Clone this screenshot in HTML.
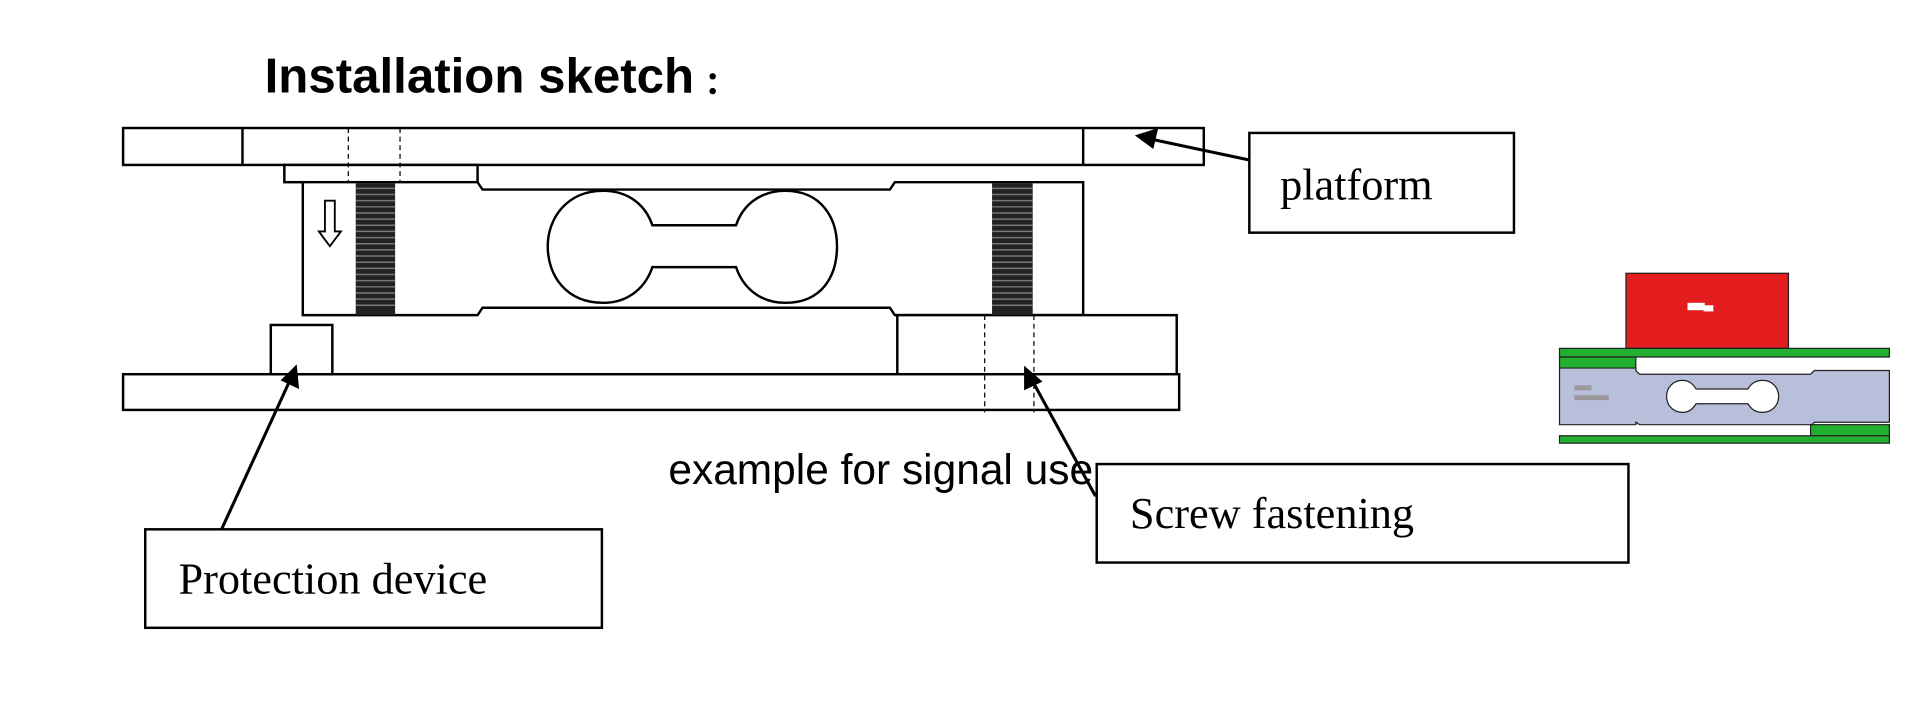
<!DOCTYPE html>
<html><head><meta charset="utf-8"><style>
html,body{margin:0;padding:0;background:#fff;}
svg{display:block;}
</style></head><body>
<svg width="1930" height="712" viewBox="0 0 1568 578.4" preserveAspectRatio="none" xmlns="http://www.w3.org/2000/svg">
<rect width="1568" height="580" fill="#fff"/>
<text x="215" y="75" font-family="Liberation Sans, sans-serif" font-weight="bold" font-size="40">Installation sketch</text>
<circle cx="579" cy="62" r="2.6" fill="#000"/>
<circle cx="579" cy="74" r="2.6" fill="#000"/>
<text x="543" y="393" font-family="Liberation Sans, sans-serif" font-size="34.5">example for signal use</text>
<g fill="none" stroke="#000" stroke-width="2">
<rect x="100" y="104" width="878" height="30" fill="#fff"/>
<line x1="197" y1="104" x2="197" y2="134"/>
<line x1="880" y1="104" x2="880" y2="134"/>
<rect x="231" y="134" width="157" height="14" fill="#fff"/>
<path d="M246 148 H388 L392 154 H723 L727 148 H880 V256 H727 L723 250 H392 L388 256 H246 Z" fill="#fff"/>
<path d="M490 155 C460 155 445 178 445 200 C445 224 460 246 490 246 C512 246 525 232 530 217 H598 C603 232 616 246 638 246 C668 246 680 224 680 200 C680 178 668 155 638 155 C616 155 603 168 598 183 H530 C525 168 512 155 490 155 Z"/>
<rect x="729" y="256" width="227" height="48" fill="#fff"/>
<rect x="100" y="304" width="858" height="29" fill="#fff"/>
<rect x="220" y="264" width="50" height="40" fill="#fff"/>
<path d="M264 163 H272 V188 H277 L268 200 L259 188 H264 Z" stroke-width="1.5"/>
</g>
<g>
<rect x="289" y="149" width="32" height="107" fill="#222"/>
<rect x="806" y="149" width="33" height="107" fill="#222"/>
<g stroke="#777" stroke-width="1.2">
<path d="M289 153 H321 M289 158 H321 M289 163 H321 M289 168 H321 M289 173 H321 M289 178 H321 M289 183 H321 M289 188 H321 M289 193 H321 M289 198 H321 M289 203 H321 M289 208 H321 M289 213 H321 M289 218 H321 M289 223 H321 M289 228 H321 M289 233 H321 M289 238 H321 M289 243 H321 M289 248 H321"/>
<path d="M806 153 H839 M806 158 H839 M806 163 H839 M806 168 H839 M806 173 H839 M806 178 H839 M806 183 H839 M806 188 H839 M806 193 H839 M806 198 H839 M806 203 H839 M806 208 H839 M806 213 H839 M806 218 H839 M806 223 H839 M806 228 H839 M806 233 H839 M806 238 H839 M806 243 H839 M806 248 H839"/>
</g>
</g>
<g stroke="#000" stroke-width="1" stroke-dasharray="4 3">
<line x1="283" y1="104" x2="283" y2="148"/>
<line x1="325" y1="104" x2="325" y2="148"/>
<line x1="800" y1="256" x2="800" y2="335"/>
<line x1="840" y1="256" x2="840" y2="335"/>
</g>
<g fill="#fff" stroke="#000" stroke-width="2">
<rect x="1015" y="108" width="215" height="81"/>
<rect x="118" y="430" width="371" height="80"/>
<rect x="891" y="377" width="432" height="80"/>
</g>
<g font-family="Liberation Serif, serif" font-size="36">
<text x="1040" y="162">platform</text>
<text x="145" y="482">Protection device</text>
<text x="918" y="429">Screw fastening</text>
</g>
<g stroke="#000" stroke-width="2.5">
<line x1="1015" y1="130" x2="935" y2="113"/>
<line x1="180" y1="430" x2="236" y2="308"/>
<line x1="890" y1="403" x2="838" y2="308"/>
</g>
<g fill="#000">
<polygon points="922,110 941,104 937,121"/>
<polygon points="241,296 243,316 228,309"/>
<polygon points="832,297 847,310 832,317"/>
</g>
<g stroke="#222" stroke-width="1">
<rect x="1321" y="222" width="132" height="61" fill="#e41e1e"/>
<rect x="1267" y="283" width="268" height="7" fill="#22b030"/>
<rect x="1267" y="290" width="62" height="9" fill="#22b030"/>
<path d="M1267 299 H1329 V301 L1332 304 H1471 L1474 301 H1535 V343 H1474 L1472 345 H1332 L1329 343 V345 H1267 Z" fill="#b8bfda"/>
<rect x="1471" y="345" width="64" height="9" fill="#22b030"/>
<rect x="1267" y="354" width="268" height="6" fill="#22b030"/>
<path d="M1367 309 C1359 309 1354 315 1354 322 C1354 329 1359 335 1367 335 C1373 335 1376 331 1378 328 H1420 C1422 331 1425 335 1432 335 C1440 335 1445 329 1445 322 C1445 315 1440 309 1432 309 C1425 309 1422 313 1420 316 H1378 C1376 313 1373 309 1367 309 Z" fill="#fff"/>
</g>
<rect x="1371" y="246" width="14" height="6" fill="#fff"/>
<rect x="1384" y="248" width="8" height="5" fill="#fff"/>
<rect x="1279" y="313" width="14" height="4" fill="#999"/>
<rect x="1279" y="321" width="28" height="4" fill="#999"/>
</svg>
</body></html>
